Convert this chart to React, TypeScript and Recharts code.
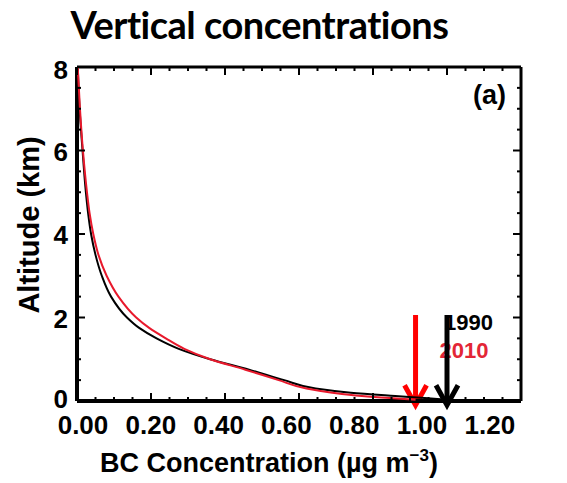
import React from 'react';
import { ScatterChart, Scatter, XAxis, YAxis, ReferenceLine } from 'recharts';

// altitude grid (km), top to bottom
const ALTITUDES = [8, 7, 6, 5, 4.5, 4, 3.5, 3, 2.5, 2, 1.75, 1.5, 1.25, 1, 0.75, 0.5, 0.3, 0.2, 0.12, 0.07, 0.03];
// BC concentration (ug m-3)
const BC_1990 = [0.002, 0.007, 0.015, 0.024, 0.03, 0.038, 0.05, 0.067, 0.092, 0.135, 0.168, 0.215, 0.275, 0.36, 0.465, 0.56, 0.645, 0.74, 0.86, 0.94, 1.0];
const BC_2010 = [0.002, 0.008, 0.016, 0.027, 0.034, 0.044, 0.058, 0.08, 0.112, 0.16, 0.195, 0.24, 0.29, 0.36, 0.455, 0.545, 0.62, 0.69, 0.77, 0.845, 0.915];

// surface values marked by the arrows
const SURFACE_1990 = 1.0;
const SURFACE_2010 = 0.915;
const ARROW_TOP = 2.06;
const ARROW_TIP = -0.1;

const X_MAJOR = [0, 0.2, 0.4, 0.6, 0.8, 1.0, 1.2];
const Y_MAJOR = [0, 2, 4, 6, 8];
const X_TICKS = Array.from({ length: 25 }, (_, i) => +(i * 0.05).toFixed(2));
const Y_TICKS = Array.from({ length: 17 }, (_, i) => i * 0.5);

const profile1990 = ALTITUDES.map((alt, i) => ({ c: BC_1990[i], alt }));
const profile2010 = ALTITUDES.map((alt, i) => ({ c: BC_2010[i], alt }));

const FONT = '"Liberation Sans", Arial, sans-serif';
const TICK_FONT = { fontFamily: FONT, fontWeight: 700, fontSize: 26, fill: '#000' };
const isMajor = (v: number, list: number[]) => list.some(m => Math.abs(m - v) < 1e-6);

const BottomTick = (props: any) => {
  const { x, y, payload } = props;
  const v = payload.value;
  const major = isMajor(v, X_MAJOR);
  return (
    <g>
      <line x1={x} x2={x} y1={y} y2={y - (major ? 8 : 4)} stroke="#000" strokeWidth={2} />
      {major && (
        // labels in the original sit a little tighter than the ticks
        <text x={x + 6 - 31 * v} y={y + 33} textAnchor="middle" {...TICK_FONT}>{v.toFixed(2)}</text>
      )}
    </g>
  );
};

const TopTick = (props: any) => {
  const { x, y, payload } = props;
  const major = isMajor(payload.value, X_MAJOR);
  return <line x1={x} x2={x} y1={y} y2={y + (major ? 8 : 4)} stroke="#000" strokeWidth={2} />;
};

const LeftTick = (props: any) => {
  const { x, y, payload } = props;
  const v = payload.value;
  const major = isMajor(v, Y_MAJOR);
  return (
    <g>
      <line x1={x} x2={x + (major ? 8 : 4)} y1={y} y2={y} stroke="#000" strokeWidth={2} />
      {major && (
        <text x={x - 9} y={y + (v === 8 ? 12 : v === 0 ? 7 : 10)} textAnchor="end" {...TICK_FONT}>{v}</text>
      )}
    </g>
  );
};

const RightTick = (props: any) => {
  const { x, y, payload } = props;
  const major = isMajor(payload.value, Y_MAJOR);
  return <line x1={x} x2={x - (major ? 8 : 4)} y1={y} y2={y} stroke="#000" strokeWidth={2} />;
};

const makeArrow = (color: string, label: string, labelColor: string, dx: number, dy: number) => (props: any) => {
  const { x1, y1, y2 } = props;
  return (
    <g>
      <line x1={x1} x2={x1} y1={y1} y2={y2 - 2} stroke={color} strokeWidth={5} />
      <polyline
        points={`${x1 - 11},${y2 - 20} ${x1},${y2} ${x1 + 11},${y2 - 20}`}
        fill="none"
        stroke={color}
        strokeWidth={5}
      />
      <text x={x1 + dx} y={y1 + dy} fill={labelColor} fontFamily={FONT} fontWeight={700} fontSize={22}>
        {label}
      </text>
    </g>
  );
};

const noDot = () => <g />;

export default function App() {
  return (
    <div style={{ position: 'absolute', left: 0, top: 0, width: 567, height: 483, background: '#fff' }}>
      <div
        style={{
          position: 'absolute', left: 0, top: 0, width: 519, textAlign: 'center',
          fontFamily: 'Lato, "Open Sans", sans-serif', fontWeight: 700, fontSize: 38, lineHeight: '48px',
          color: '#000', letterSpacing: -0.5,
        }}
      >
        Vertical concentrations
      </div>

      <ScatterChart width={567} height={483} margin={{ top: 66, right: 45, bottom: 42, left: 17 }}>
        <XAxis
          type="number" dataKey="c" domain={[0, 1.2]} ticks={X_TICKS} interval={0} allowDataOverflow
          height={40} tickSize={0} tickMargin={0} tick={BottomTick}
          axisLine={{ stroke: '#000', strokeWidth: 4 }} tickLine={false}
        />
        <XAxis
          xAxisId="t" orientation="top" type="number" dataKey="c" domain={[0, 1.2]} ticks={X_TICKS} interval={0}
          allowDataOverflow height={1} tickSize={0} tickMargin={0} tick={TopTick}
          axisLine={{ stroke: '#000', strokeWidth: 3 }} tickLine={false}
        />
        <YAxis
          type="number" dataKey="alt" domain={[0, 8]} ticks={Y_TICKS} interval={0} allowDataOverflow
          width={60} tickSize={0} tickMargin={0} tick={LeftTick}
          axisLine={{ stroke: '#000', strokeWidth: 4 }} tickLine={false}
        />
        <YAxis
          yAxisId="r" orientation="right" type="number" dataKey="alt" domain={[0, 8]} ticks={Y_TICKS} interval={0}
          allowDataOverflow width={1} tickSize={0} tickMargin={0} tick={RightTick}
          axisLine={{ stroke: '#000', strokeWidth: 3 }} tickLine={false}
        />
        {/* invisible copy so the mirrored frame axes have a series */}
        <Scatter
          xAxisId="t" yAxisId="r" data={profile1990} shape={noDot} legendType="none"
          isAnimationActive={false}
        />
        <Scatter
          data={profile1990} shape={noDot} line={{ stroke: '#000', strokeWidth: 2 }}
          lineJointType="monotoneY" isAnimationActive={false}
        />
        <Scatter
          data={profile2010} shape={noDot} line={{ stroke: '#e8192c', strokeWidth: 2 }}
          lineJointType="monotoneY" isAnimationActive={false}
        />
        <ReferenceLine
          segment={[{ x: SURFACE_2010, y: ARROW_TOP }, { x: SURFACE_2010, y: ARROW_TIP }]}
          ifOverflow="visible"
          shape={makeArrow('#ff0000', '2010', '#e32636', 24, 43)}
        />
        <ReferenceLine
          segment={[{ x: SURFACE_1990, y: ARROW_TOP }, { x: SURFACE_1990, y: ARROW_TIP }]}
          ifOverflow="visible"
          shape={makeArrow('#000', '1990', '#000', -3, 15)}
        />
      </ScatterChart>

      <div
        style={{
          position: 'absolute', right: 61, top: 80, fontFamily: FONT,
          fontWeight: 700, fontSize: 27, color: '#000',
        }}
      >
        (a)
      </div>
      <div
        style={{
          position: 'absolute', left: 29, top: 225, transform: 'translate(-50%, -50%) rotate(-90deg)',
          whiteSpace: 'nowrap', fontFamily: FONT, fontWeight: 700, fontSize: 29, color: '#000',
        }}
      >
        Altitude (km)
      </div>
      <div
        style={{
          position: 'absolute', left: 269, top: 462, transform: 'translate(-50%, -50%)',
          whiteSpace: 'nowrap', fontFamily: FONT, fontWeight: 700, fontSize: 27, color: '#000',
        }}
      >
        BC Concentration (µg m<sup style={{ fontSize: 17, verticalAlign: 11 }}>−3</sup>)
      </div>
    </div>
  );
}
